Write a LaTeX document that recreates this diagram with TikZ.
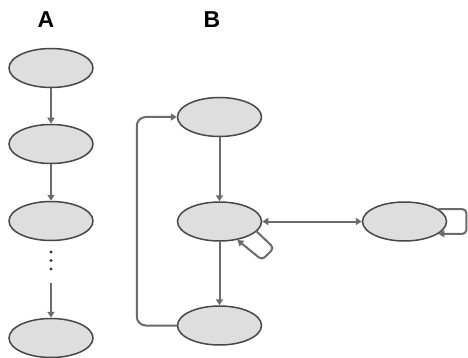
\documentclass[tikz,border=0pt]{standalone}
\usepackage{fontspec}
\setmainfont{Liberation Sans}
\usetikzlibrary{shapes.geometric,arrows.meta}
\begin{document}
\begin{tikzpicture}[x=1pt,y=-1pt,
  st/.style={ellipse, draw=black!72, fill=black!13, line width=1.5pt,
    minimum width=84pt, minimum height=39pt, inner sep=0pt},
  arr/.style={draw=black!58, line width=2pt,
    -{Triangle[length=6pt,width=7pt]}},
  darr/.style={draw=black!58, line width=2pt,
    {Triangle[length=6pt,width=7pt]}-{Triangle[length=6pt,width=7pt]}},
  lbl/.style={font=\bfseries\fontsize{23}{25}\selectfont, inner sep=0pt}]
\useasboundingbox[fill=white] (0,0) rectangle (468,358);
% labels
\node[lbl] (la) at (46,20) {A};
\node[lbl] (lb) at (212,20) {B};
% column A
\node[st] (a1) at (51,68) {};
\node[st] (a2) at (51,144) {};
\node[st] (a3) at (51,221) {};
\node[st] (a4) at (51,338) {};
\fill[black!80] (51,252) circle (1.6pt) (51,260.5) circle (1.6pt) (51,269) circle (1.6pt);
\coordinate (d) at (51,283);
\draw[arr] (a1.south) -- (a2.north);
\draw[arr] (a2.south) -- (a3.north);
\draw[arr] (d) -- (a4.north);
% column B
\node[st] (t) at (219.5,117) {};
\node[st] (m) at (219.5,221.5) {};
\node[st] (b) at (219.5,325.5) {};
\node[st] (r) at (404.5,221.5) {};
\draw[arr] (t.south) -- (m.north);
\draw[arr] (m.south) -- (b.north);
\draw[arr, rounded corners=9pt] (b.west) -- ++(-40,0) |- (t.west);
\draw[darr] (m.east) -- (r.west);
\draw[arr, rounded corners=4pt] (m.-15) -- (274,248) -- (262,260) -- (m.-46);
\draw[arr, rounded corners=4pt] (r.20) -- ++(28,0) |- (r.-20);
\end{tikzpicture}
\end{document}
